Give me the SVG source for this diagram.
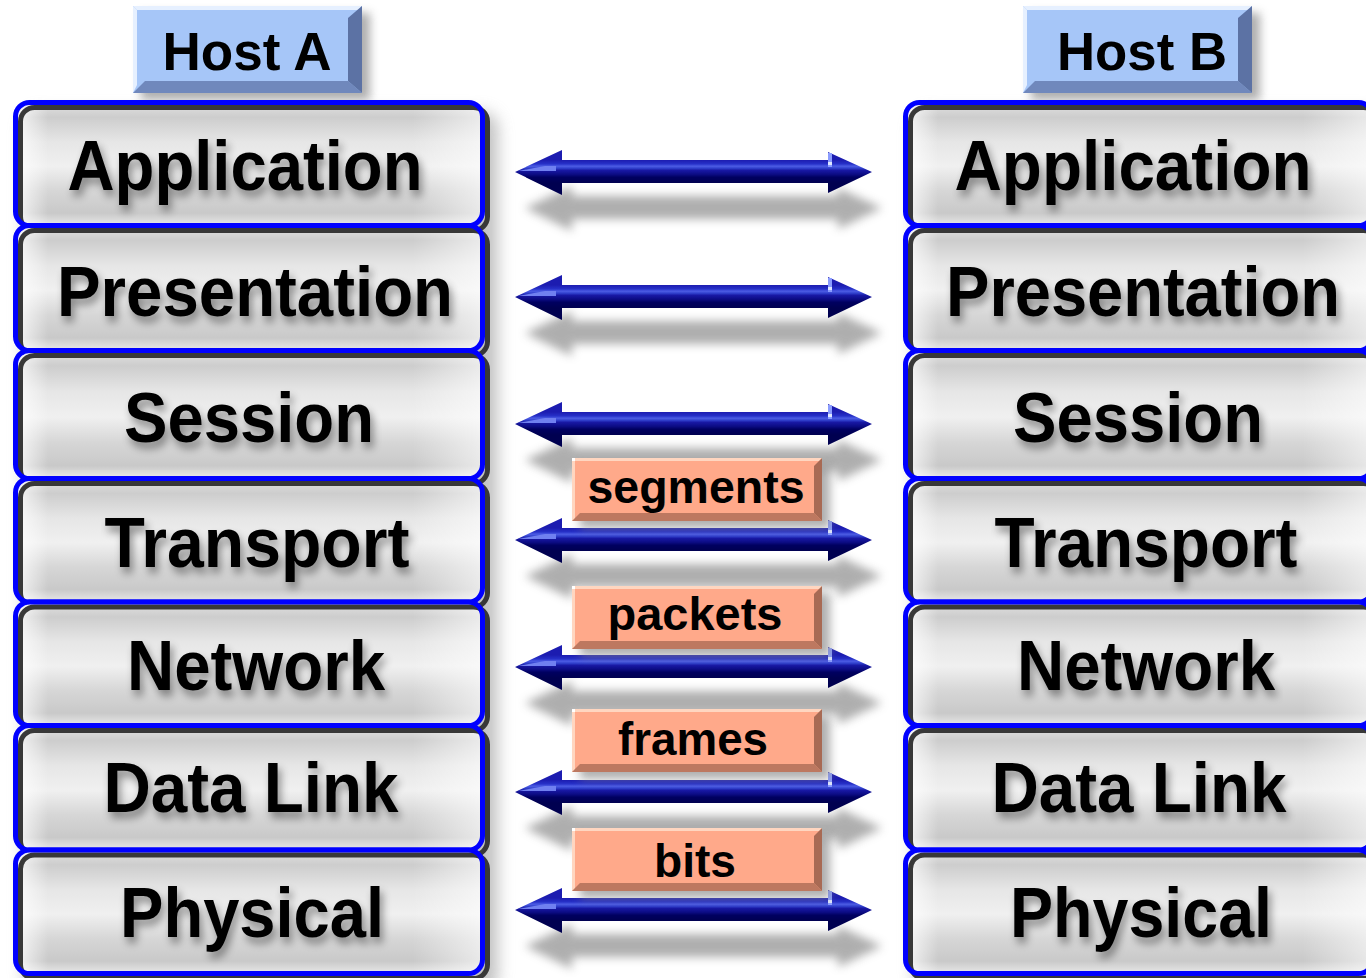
<svg xmlns="http://www.w3.org/2000/svg" xmlns:xlink="http://www.w3.org/1999/xlink" width="1366" height="978" viewBox="0 0 1366 978">
  <defs>
    <style>
      .layer-text{font-family:"Liberation Sans",Arial,sans-serif;font-weight:bold;font-size:70px;fill:#000;text-anchor:middle;filter:url(#textShadow)}
      .host-text{font-family:"Liberation Sans",Arial,sans-serif;font-weight:bold;font-size:54px;fill:#000;text-anchor:middle}
      .pdu-text{font-family:"Liberation Sans",Arial,sans-serif;font-weight:bold;font-size:46px;fill:#000;text-anchor:middle}
      .box-fill{fill:url(#boxGrad)}
      .box-hl{fill:url(#boxHl)}
      .box-dark{fill:none;stroke:#383838;stroke-width:5}
      .box-blue{fill:none;stroke:#0000ff;stroke-width:5}
      .col-shadow{fill:#9a9a9a;opacity:0.6;filter:url(#blur8)}
      .soft-shadow{fill:#8c8c8c;opacity:0.7;filter:url(#blur5)}
      .host-face{fill:#a6c6f8}
      .host-top{fill:#e6f0ff}
      .host-bottom{fill:#7088bc}
      .host-right{fill:#5c72a4}
      .pdu-face{fill:#ffa98a}
      .pdu-top{fill:#ffd6c0}
      .pdu-bottom{fill:#bd7860}
      .pdu-right{fill:#a86a54}
    </style>
    <filter id="blur5" x="-20%" y="-60%" width="140%" height="220%"><feGaussianBlur stdDeviation="5"/></filter>
    <filter id="blur8" x="-20%" y="-20%" width="140%" height="140%"><feGaussianBlur stdDeviation="8"/></filter>
    <!-- soft grey halo under the layer names -->
    <filter id="textShadow" x="-2%" y="-30%" width="105%" height="175%">
      <feGaussianBlur in="SourceAlpha" stdDeviation="4"/>
      <feOffset dx="3" dy="6" result="blurred"/>
      <feComponentTransfer><feFuncA type="linear" slope="0.42"/></feComponentTransfer>
      <feMerge><feMergeNode/><feMergeNode in="SourceGraphic"/></feMerge>
    </filter>
    <linearGradient id="boxGrad" x1="0" y1="0" x2="0" y2="1">
      <stop offset="0" stop-color="#e2e2e2"/>
      <stop offset="0.12" stop-color="#cdcdcd"/>
      <stop offset="0.32" stop-color="#e6e6e6"/>
      <stop offset="0.52" stop-color="#f0f0f0"/>
      <stop offset="0.72" stop-color="#d6d6d6"/>
      <stop offset="0.9" stop-color="#c9c9c9"/>
      <stop offset="1" stop-color="#e8e8e8"/>
    </linearGradient>
    <linearGradient id="boxHl" x1="0" y1="0" x2="1" y2="0">
      <stop offset="0" stop-color="#ffffff" stop-opacity="0.85"/>
      <stop offset="0.07" stop-color="#ffffff" stop-opacity="0"/>
      <stop offset="0.85" stop-color="#ffffff" stop-opacity="0"/>
      <stop offset="1" stop-color="#ffffff" stop-opacity="0.6"/>
    </linearGradient>
    <!-- shaft shading for the double arrows, drawn around y = 0 -->
    <linearGradient id="shaft" gradientUnits="userSpaceOnUse" x1="0" y1="-12" x2="0" y2="11">
      <stop offset="0" stop-color="#1c1cb0"/>
      <stop offset="0.17" stop-color="#2630c8"/>
      <stop offset="0.27" stop-color="#4c5ce4"/>
      <stop offset="0.36" stop-color="#3040cc"/>
      <stop offset="0.45" stop-color="#1818a4"/>
      <stop offset="0.62" stop-color="#0c0c84"/>
      <stop offset="0.75" stop-color="#000060"/>
      <stop offset="1" stop-color="#000050"/>
    </linearGradient>
    <path id="arrowShape" d="M515,0 L562,-22 L562,-12 L828,-12 L828,-20 L872,0 L828,21 L828,11 L562,11 L562,23 Z"/>
    <g id="arrow">
      <use xlink:href="#arrowShape" fill="url(#shaft)"/>
      <path d="M518,-1 L545,-6 L556,-6 L556,-1 Z" fill="#7080f0"/>
      <rect x="828" y="-19" width="4" height="14" fill="#8a9cff"/>
      <rect x="828" y="-10" width="4" height="3" fill="#e0e8ff"/>
    </g>
  </defs>

  <rect width="1366" height="978" fill="#ffffff"/>

  <!-- soft shadows cast by the two layer stacks -->
  <rect class="col-shadow" x="24" y="112" width="474" height="880" rx="16"/>
  <rect class="col-shadow" x="914" y="112" width="474" height="880" rx="16"/>

  <!-- connectors: peer-to-peer arrows between matching layers -->
  <g id="connectors">
    <g id="arrow-shadows" class="soft-shadow">
      <use xlink:href="#arrowShape" transform="translate(10 208)"/>
      <use xlink:href="#arrowShape" transform="translate(10 333)"/>
      <use xlink:href="#arrowShape" transform="translate(10 460)"/>
      <use xlink:href="#arrowShape" transform="translate(10 576)"/>
      <use xlink:href="#arrowShape" transform="translate(10 703)"/>
      <use xlink:href="#arrowShape" transform="translate(10 828)"/>
      <use xlink:href="#arrowShape" transform="translate(10 946)"/>
    </g>
    <use id="link-application" xlink:href="#arrow" transform="translate(0 172)"/>
    <use id="link-presentation" xlink:href="#arrow" transform="translate(0 297)"/>
    <use id="link-session" xlink:href="#arrow" transform="translate(0 424)"/>
    <use id="link-transport" xlink:href="#arrow" transform="translate(0 540)"/>
    <use id="link-network" xlink:href="#arrow" transform="translate(0 667)"/>
    <use id="link-datalink" xlink:href="#arrow" transform="translate(0 792)"/>
    <use id="link-physical" xlink:href="#arrow" transform="translate(0 910)"/>
  </g>

  <!-- data unit labels on the lower four links -->
  <g id="pdu-segments">
    <rect class="soft-shadow" x="580" y="465" width="250" height="63"/>
    <rect class="pdu-face" x="572" y="458" width="250" height="63"/>
    <rect class="pdu-top" x="572" y="458" width="250" height="3"/>
    <rect class="pdu-top" x="572" y="458" width="3" height="63"/>
    <polygon class="pdu-bottom" points="572,521 822,521 814,513 580,513"/>
    <polygon class="pdu-right" points="822,458 822,521 814,513 814,466"/>
    <rect x="572" y="458" width="3" height="3" fill="#ffffff"/>
    <text class="pdu-text" x="696" y="503" textLength="217" lengthAdjust="spacingAndGlyphs">segments</text>
  </g>
  <g id="pdu-packets">
    <rect class="soft-shadow" x="580" y="593" width="250" height="63"/>
    <rect class="pdu-face" x="572" y="586" width="250" height="63"/>
    <rect class="pdu-top" x="572" y="586" width="250" height="3"/>
    <rect class="pdu-top" x="572" y="586" width="3" height="63"/>
    <polygon class="pdu-bottom" points="572,649 822,649 814,641 580,641"/>
    <polygon class="pdu-right" points="822,586 822,649 814,641 814,594"/>
    <rect x="572" y="586" width="3" height="3" fill="#ffffff"/>
    <text class="pdu-text" x="695" y="630" textLength="175" lengthAdjust="spacingAndGlyphs">packets</text>
  </g>
  <g id="pdu-frames">
    <rect class="soft-shadow" x="580" y="716" width="250" height="63"/>
    <rect class="pdu-face" x="572" y="709" width="250" height="63"/>
    <rect class="pdu-top" x="572" y="709" width="250" height="3"/>
    <rect class="pdu-top" x="572" y="709" width="3" height="63"/>
    <polygon class="pdu-bottom" points="572,772 822,772 814,764 580,764"/>
    <polygon class="pdu-right" points="822,709 822,772 814,764 814,717"/>
    <rect x="572" y="709" width="3" height="3" fill="#ffffff"/>
    <text class="pdu-text" x="693" y="755" textLength="150" lengthAdjust="spacingAndGlyphs">frames</text>
  </g>
  <g id="pdu-bits">
    <rect class="soft-shadow" x="580" y="835" width="250" height="63"/>
    <rect class="pdu-face" x="572" y="828" width="250" height="63"/>
    <rect class="pdu-top" x="572" y="828" width="250" height="3"/>
    <rect class="pdu-top" x="572" y="828" width="3" height="63"/>
    <polygon class="pdu-bottom" points="572,891 822,891 814,883 580,883"/>
    <polygon class="pdu-right" points="822,828 822,891 814,883 814,836"/>
    <rect x="572" y="828" width="3" height="3" fill="#ffffff"/>
    <text class="pdu-text" x="695" y="877" textLength="82" lengthAdjust="spacingAndGlyphs">bits</text>
  </g>

  <!-- host captions -->
  <g id="host-a">
    <rect class="soft-shadow" x="141" y="13" width="229" height="87"/>
    <rect class="host-face" x="133" y="6" width="229" height="87"/>
    <polygon class="host-top" points="133,6 362,6 358,10 137,10"/>
    <polygon class="host-top" points="133,6 137,10 137,85 133,93"/>
    <polygon class="host-bottom" points="133,93 362,93 348,81 145,81"/>
    <polygon class="host-right" points="362,6 362,93 348,81 348,18"/>
    <text class="host-text" x="247" y="70" textLength="169" lengthAdjust="spacingAndGlyphs">Host A</text>
  </g>
  <g id="host-b">
    <rect class="soft-shadow" x="1031" y="13" width="229" height="87"/>
    <rect class="host-face" x="1023" y="6" width="229" height="87"/>
    <polygon class="host-top" points="1023,6 1252,6 1248,10 1027,10"/>
    <polygon class="host-top" points="1023,6 1027,10 1027,85 1023,93"/>
    <polygon class="host-bottom" points="1023,93 1252,93 1238,81 1035,81"/>
    <polygon class="host-right" points="1252,6 1252,93 1238,81 1238,18"/>
    <text class="host-text" x="1142" y="70" textLength="170" lengthAdjust="spacingAndGlyphs">Host B</text>
  </g>

  <!-- Host A layer stack -->
  <g id="a-application">
    <rect class="box-fill" x="15.5" y="102.5" width="467" height="123" rx="14"/>
    <rect class="box-hl" x="15.5" y="102.5" width="467" height="123" rx="14"/>
    <text class="layer-text" x="245" y="190" textLength="355" lengthAdjust="spacingAndGlyphs">Application</text>
    <rect class="box-dark" x="20.5" y="107.5" width="467" height="123" rx="14"/>
    <rect class="box-blue" x="15.5" y="102.5" width="467" height="123" rx="14"/>
  </g>
  <g id="a-presentation">
    <rect class="box-fill" x="15.5" y="225.5" width="467" height="125" rx="14"/>
    <rect class="box-hl" x="15.5" y="225.5" width="467" height="125" rx="14"/>
    <text class="layer-text" x="255" y="316" textLength="396" lengthAdjust="spacingAndGlyphs">Presentation</text>
    <rect class="box-dark" x="20.5" y="230.5" width="467" height="125" rx="14"/>
    <rect class="box-blue" x="15.5" y="225.5" width="467" height="125" rx="14"/>
  </g>
  <g id="a-session">
    <rect class="box-fill" x="15.5" y="350.5" width="467" height="128" rx="14"/>
    <rect class="box-hl" x="15.5" y="350.5" width="467" height="128" rx="14"/>
    <text class="layer-text" x="249" y="442" textLength="250" lengthAdjust="spacingAndGlyphs">Session</text>
    <rect class="box-dark" x="20.5" y="355.5" width="467" height="128" rx="14"/>
    <rect class="box-blue" x="15.5" y="350.5" width="467" height="128" rx="14"/>
  </g>
  <g id="a-transport">
    <rect class="box-fill" x="15.5" y="478.5" width="467" height="123.5" rx="14"/>
    <rect class="box-hl" x="15.5" y="478.5" width="467" height="123.5" rx="14"/>
    <text class="layer-text" x="257" y="567" textLength="305" lengthAdjust="spacingAndGlyphs">Transport</text>
    <rect class="box-dark" x="20.5" y="483.5" width="467" height="123.5" rx="14"/>
    <rect class="box-blue" x="15.5" y="478.5" width="467" height="123.5" rx="14"/>
  </g>
  <g id="a-network">
    <rect class="box-fill" x="15.5" y="602" width="467" height="123.5" rx="14"/>
    <rect class="box-hl" x="15.5" y="602" width="467" height="123.5" rx="14"/>
    <text class="layer-text" x="256" y="690" textLength="258" lengthAdjust="spacingAndGlyphs">Network</text>
    <rect class="box-dark" x="20.5" y="607" width="467" height="123.5" rx="14"/>
    <rect class="box-blue" x="15.5" y="602" width="467" height="123.5" rx="14"/>
  </g>
  <g id="a-datalink">
    <rect class="box-fill" x="15.5" y="725.5" width="467" height="124.5" rx="14"/>
    <rect class="box-hl" x="15.5" y="725.5" width="467" height="124.5" rx="14"/>
    <text class="layer-text" x="251" y="812" textLength="295" lengthAdjust="spacingAndGlyphs">Data Link</text>
    <rect class="box-dark" x="20.5" y="730.5" width="467" height="124.5" rx="14"/>
    <rect class="box-blue" x="15.5" y="725.5" width="467" height="124.5" rx="14"/>
  </g>
  <g id="a-physical">
    <rect class="box-fill" x="15.5" y="850" width="467" height="123.5" rx="14"/>
    <rect class="box-hl" x="15.5" y="850" width="467" height="123.5" rx="14"/>
    <text class="layer-text" x="252" y="937" textLength="264" lengthAdjust="spacingAndGlyphs">Physical</text>
    <rect class="box-dark" x="20.5" y="855" width="467" height="123.5" rx="14"/>
    <rect class="box-blue" x="15.5" y="850" width="467" height="123.5" rx="14"/>
  </g>

  <!-- Host B layer stack (same geometry, shifted right) -->
  <g id="b-application" transform="translate(890 0)">
    <rect class="box-fill" x="15.5" y="102.5" width="467" height="123" rx="14"/>
    <rect class="box-hl" x="15.5" y="102.5" width="467" height="123" rx="14"/>
    <text class="layer-text" x="243" y="190" textLength="357" lengthAdjust="spacingAndGlyphs">Application</text>
    <rect class="box-dark" x="20.5" y="107.5" width="467" height="123" rx="14"/>
    <rect class="box-blue" x="15.5" y="102.5" width="467" height="123" rx="14"/>
  </g>
  <g id="b-presentation" transform="translate(890 0)">
    <rect class="box-fill" x="15.5" y="225.5" width="467" height="125" rx="14"/>
    <rect class="box-hl" x="15.5" y="225.5" width="467" height="125" rx="14"/>
    <text class="layer-text" x="253" y="316" textLength="394" lengthAdjust="spacingAndGlyphs">Presentation</text>
    <rect class="box-dark" x="20.5" y="230.5" width="467" height="125" rx="14"/>
    <rect class="box-blue" x="15.5" y="225.5" width="467" height="125" rx="14"/>
  </g>
  <g id="b-session" transform="translate(890 0)">
    <rect class="box-fill" x="15.5" y="350.5" width="467" height="128" rx="14"/>
    <rect class="box-hl" x="15.5" y="350.5" width="467" height="128" rx="14"/>
    <text class="layer-text" x="248" y="442" textLength="250" lengthAdjust="spacingAndGlyphs">Session</text>
    <rect class="box-dark" x="20.5" y="355.5" width="467" height="128" rx="14"/>
    <rect class="box-blue" x="15.5" y="350.5" width="467" height="128" rx="14"/>
  </g>
  <g id="b-transport" transform="translate(890 0)">
    <rect class="box-fill" x="15.5" y="478.5" width="467" height="123.5" rx="14"/>
    <rect class="box-hl" x="15.5" y="478.5" width="467" height="123.5" rx="14"/>
    <text class="layer-text" x="256" y="567" textLength="303" lengthAdjust="spacingAndGlyphs">Transport</text>
    <rect class="box-dark" x="20.5" y="483.5" width="467" height="123.5" rx="14"/>
    <rect class="box-blue" x="15.5" y="478.5" width="467" height="123.5" rx="14"/>
  </g>
  <g id="b-network" transform="translate(890 0)">
    <rect class="box-fill" x="15.5" y="602" width="467" height="123.5" rx="14"/>
    <rect class="box-hl" x="15.5" y="602" width="467" height="123.5" rx="14"/>
    <text class="layer-text" x="256" y="690" textLength="258" lengthAdjust="spacingAndGlyphs">Network</text>
    <rect class="box-dark" x="20.5" y="607" width="467" height="123.5" rx="14"/>
    <rect class="box-blue" x="15.5" y="602" width="467" height="123.5" rx="14"/>
  </g>
  <g id="b-datalink" transform="translate(890 0)">
    <rect class="box-fill" x="15.5" y="725.5" width="467" height="124.5" rx="14"/>
    <rect class="box-hl" x="15.5" y="725.5" width="467" height="124.5" rx="14"/>
    <text class="layer-text" x="249" y="812" textLength="295" lengthAdjust="spacingAndGlyphs">Data Link</text>
    <rect class="box-dark" x="20.5" y="730.5" width="467" height="124.5" rx="14"/>
    <rect class="box-blue" x="15.5" y="725.5" width="467" height="124.5" rx="14"/>
  </g>
  <g id="b-physical" transform="translate(890 0)">
    <rect class="box-fill" x="15.5" y="850" width="467" height="123.5" rx="14"/>
    <rect class="box-hl" x="15.5" y="850" width="467" height="123.5" rx="14"/>
    <text class="layer-text" x="251" y="937" textLength="262" lengthAdjust="spacingAndGlyphs">Physical</text>
    <rect class="box-dark" x="20.5" y="855" width="467" height="123.5" rx="14"/>
    <rect class="box-blue" x="15.5" y="850" width="467" height="123.5" rx="14"/>
  </g>
</svg>
